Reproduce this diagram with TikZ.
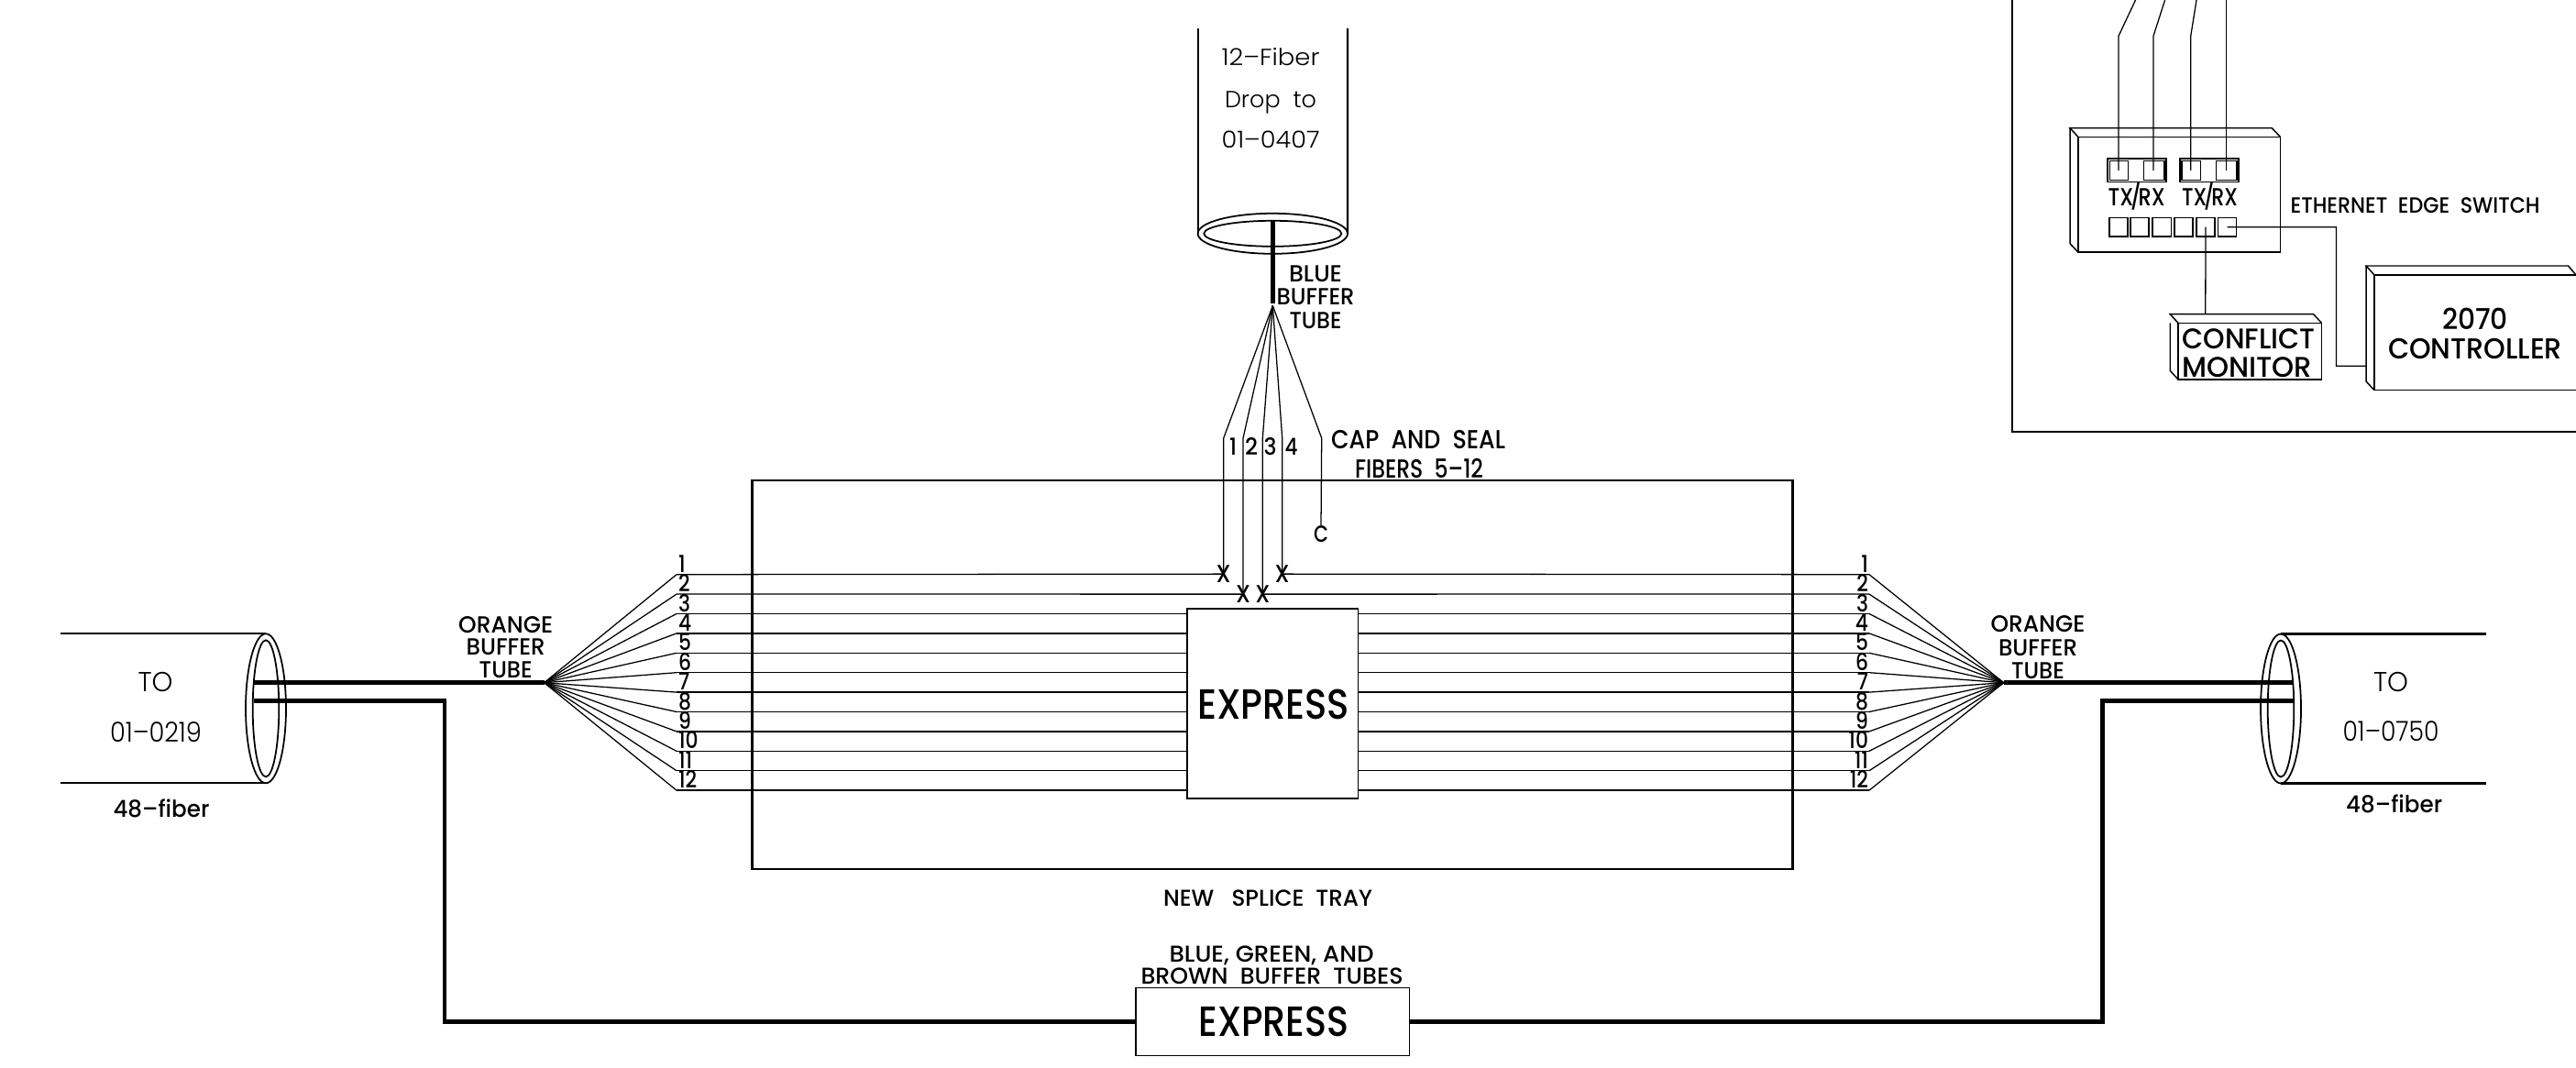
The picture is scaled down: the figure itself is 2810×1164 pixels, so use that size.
\documentclass[tikz,border=0pt]{standalone}
\usepackage{fontspec}
\usepackage{graphicx}
\usetikzlibrary{shapes.geometric}
\setmainfont{Poppins}[UprightFont=* Medium]
\newfontfamily\lightf{Poppins}[UprightFont=* Light]
\newdimen\px \px=0.01cm
\newcommand\lbl[3]{\resizebox{#1\px}{\height}{\fontsize{\the\dimexpr#2\px*3/2\relax}{\the\dimexpr#2\px*9/5\relax}\selectfont #3}}
\newcommand\tx[7][]{\node[lab,font=#1] (#2) at ({#3},{#4+#6/2+1.5}) {\lbl{#5}{#6}{#7}};}
\newcommand\bx[6][]{\node[rb,minimum width={(#5-#3)*\px},minimum height={(#6-#4)*\px}] (#2) at ({(#3+#5)/2},{(#4+#6)/2}) {#1};}
\newcommand\txrx{TX\kern-.14em/\kern-.14em RX}
\tikzset{
  lab/.style={anchor=base,inner sep=0pt,outer sep=0pt,text=black},
  rb/.style={draw=black,line width=0.42pt,fill=white,inner sep=0pt,outer sep=0pt},
  thin fiber/.style={draw=black,line width=0.36pt,line join=miter},
  cyl/.style={draw=black,line width=0.6pt},
  tube/.style={draw=black,line width=1.4pt,line join=miter},
  ring/.style={draw=black,line width=0.5pt,ellipse,inner sep=0pt,outer sep=0pt},
  tray/.style={draw=black,line width=0.65pt,inner sep=0pt,outer sep=0pt},
  num/.style={inner sep=0pt,outer sep=0pt,text=black},
}
\begin{document}
\begin{tikzpicture}[x=0.01cm,y=-0.01cm]
\useasboundingbox (0,0) rectangle (2810,1164);
% cabinet
\coordinate (cabTL) at (2195,0);
\coordinate (cabBL) at (2195,471);
\coordinate (cabBR) at (2810,471);
\draw[tray] (cabTL) -- (cabBL) -- (cabBR);
% switch
\bx{sw}{2266.8}{149.3}{2487.4}{275}
\draw[rb,fill=none] (sw.north west) -- ++(-8.8,-9.6) -- ++(220.2,0) -- (sw.north east);
\draw[rb,fill=none] (sw.south west) -- ++(-8.8,-9.3) -- ++(0,-126);
\bx{pgA}{2299}{173}{2362.8}{198.7}
\bx{pgB}{2378}{173}{2442}{198.7}
\bx{pa}{2301.7}{175.3}{2321.4}{196.3}
\bx{pb}{2338.3}{175.3}{2360.8}{196.3}
\bx{pc}{2380}{175.3}{2400.6}{196.3}
\bx{pd}{2417.4}{175.3}{2440}{196.3}
\coordinate (fa0) at (2329.5,0); \coordinate (fa1) at (2311,39.3);
\coordinate (fb0) at (2361.6,0); \coordinate (fb1) at (2349,39.3);
\coordinate (fc0) at (2396,0);   \coordinate (fc1) at (2389.7,39.3);
\coordinate (fd0) at (2428.7,0);
\draw[thin fiber] (fa0) -- (fa1) -- (fa1 |- pa.center);
\draw[thin fiber] (fb0) -- (fb1) -- (fb1 |- pb.center);
\draw[thin fiber] (fc0) -- (fc1) -- (fc1 |- pc.center);
\draw[thin fiber] (fd0) -- (fd0 |- pd.center);
\tx{txa}{2330.6}{214}{62}{18}{\txrx}
\tx{txb}{2410.5}{214}{61}{18}{\txrx}
\tx{eth}{2634.6}{222.7}{272}{16}{ETHERNET~~EDGE~~SWITCH}
\bx{sa}{2301}{237.3}{2321}{258}
\bx{sb}{2324}{237.3}{2344}{258}
\bx{sc}{2348}{237.3}{2368.4}{258}
\bx{sd}{2372}{237.3}{2392}{258}
\bx{se}{2395.8}{237.3}{2416}{258}
\bx{sf}{2419.5}{237.3}{2439.5}{258}
% conflict monitor
\bx{cm}{2376}{352.3}{2532.4}{414}
\draw[rb,fill=none] (cm.north west) -- ++(-8.8,-9.6) -- ++(156.4,0) -- (cm.north east);
\draw[rb,fill=none] (cm.south west) -- ++(-8.8,-9.7) -- ++(0,-52);
\tx{cma}{2453}{369}{145}{20.7}{CONFLICT}
\tx{cmb}{2451}{400}{142}{20.7}{MONITOR}
\coordinate (cmt) at (2405.8,342.7);
\draw[thin fiber] (se.center) -- (cmt);
% controller
\bx{ct}{2590}{300}{2812}{425.7}
\draw[rb,fill=none] (ct.north west) -- ++(-9,-10) -- ++(220.5,0) -- (2810,300);
\draw[rb,fill=none] (ct.south west) -- ++(-9,-9.7) -- ++(0,-126);
\tx{cta}{2700}{348}{72}{21}{2070}
\tx{ctb}{2700}{379}{190}{21}{CONTROLLER}
\coordinate (ctl) at (2581,399.3);
\coordinate (wa) at (2548.4,247.7);
\coordinate (wb) at (2548.4,399.3);
\draw[thin fiber] (sf.center) -- (wa) -- (wb) -- (ctl);
% drop cylinder
\node[ring,minimum width=163.4\px,minimum height=44\px] (dropo) at (1388.3,254.8) {};
\node[ring,minimum width=150\px,minimum height=28\px] (dropi) at (1388.3,254.8) {};
\coordinate (dl) at (1306.6,31);
\coordinate (dr) at (1470,31);
\draw[cyl] (dropo.west) -- (dl);
\draw[cyl] (dropo.east) -- (dr);
\tx[\lightf]{dta}{1386}{62}{107}{17}{12–Fiber}
\tx[\lightf]{dtb}{1386}{107.5}{100}{17}{Drop~~to}
\tx[\lightf]{dtc}{1386}{151.3}{107}{17}{01–0407}
\coordinate (btop) at (1388.3,241);
\coordinate (bfan) at (1388.3,333.5);
\draw[tube] (btop) -- (1388.3,331);
\tx{bba}{1435}{297.8}{58}{17}{BLUE}
\tx{bbb}{1435}{323}{85}{17}{BUFFER}
\tx{bbc}{1435}{348.3}{57}{17}{TUBE}
\tx{na}{1345}{486.3}{8}{17}{1}
\tx{nb}{1365}{486.3}{14}{17}{2}
\tx{nc}{1385.7}{486.3}{14}{17}{3}
\tx{nd}{1408.7}{486.3}{14}{17}{4}
\tx{cpa}{1547}{478.8}{190}{19}{CAP~~AND~~SEAL}
\tx{cpb}{1548}{510.3}{140}{19}{FIBERS~~5–12}
% tray
\node[tray,minimum width=1135\px,minimum height=424\px] (trayb) at (1388,736) {};
\tx{trl}{1383}{978.3}{228}{16.7}{NEW~~~SPLICE~~TRAY}
% express inner
\bx{ex}{1295}{664}{1481.7}{871}
\tx{exl}{1389}{768}{166}{30.7}{EXPRESS}
% row lines and fans
\coordinate (fl) at (593.6,744.7);
\coordinate (fr) at (2185.7,744.7);
\foreach \i in {1,...,12}{
  \pgfmathsetmacro\yy{626.7+21.4*(\i-1)}
  \coordinate (rl\i) at (738,\yy);
  \coordinate (rr\i) at (2039,\yy);
  \draw[thin fiber] (fl) -- (rl\i);
  \draw[thin fiber] (fr) -- (rr\i);
  \node[num,anchor=base west] (ln\i) at (740,{\yy-2.5}) {\fontsize{7.3}{8}\selectfont\scalebox{0.85}[1]{\i}};
  \node[num,anchor=base east] (rn\i) at (2038,{\yy-2.5}) {\fontsize{7.3}{8}\selectfont\scalebox{0.85}[1]{\i}};
}
\foreach \i in {3,...,12}{
  \draw[thin fiber] (rl\i) -- (ex.west |- rl\i);
  \draw[thin fiber] (ex.east |- rr\i) -- (rr\i);
}
% fibers into tray
\coordinate (da) at (1334.7,478);
\coordinate (db) at (1356,478);
\coordinate (dc) at (1377.3,478);
\coordinate (dd) at (1398.7,478);
\coordinate (de) at (1441.7,478);
\tx{xa}{1334.7}{625}{16}{18}{X}
\tx{xb}{1356}{647}{16}{18}{X}
\tx{xc}{1377.3}{647}{16}{18}{X}
\tx{xd}{1398.7}{625}{16}{18}{X}
\tx{cc}{1441}{581}{16}{17}{C}
\draw[thin fiber] (rl1) -- (xa.center);
\draw[thin fiber] (xd.center) -- (rr1);
\draw[thin fiber] (rl2) -- (xb.center);
\draw[thin fiber] (xc.center) -- (rr2);
\draw[thin fiber] (bfan) -- (da) -- (xa.center);
\draw[thin fiber] (bfan) -- (db) -- (xb.center);
\draw[thin fiber] (bfan) -- (dc) -- (xc.center);
\draw[thin fiber] (bfan) -- (dd) -- (xd.center);
\draw[thin fiber] (bfan) -- (de) -- (cc.north);
% left cylinder
\node[ring,minimum width=44\px,minimum height=163\px] (lo) at (290,772.8) {};
\node[ring,minimum width=28.6\px,minimum height=149\px] (li) at (290,772.8) {};
\coordinate (lct) at (65.5,691.3);
\coordinate (lcb) at (65.5,854.3);
\draw[cyl] (lct) -- (lo.north);
\draw[cyl] (lcb) -- (lo.south);
\tx[\lightf]{lta}{169.6}{743.3}{38}{20}{TO}
\tx[\lightf]{ltb}{170}{797.7}{100}{20}{01–0219}
\tx{ltc}{176}{881}{105}{17}{48–fiber}
\coordinate (lta1) at (277,744.7);
\coordinate (ltb1) at (277,764.3);
\coordinate (ltb2) at (485,764.3);
\draw[tube] (lta1) -- (fl);
\tx{loa}{551.7}{680}{103}{17}{ORANGE}
\tx{lob}{551.7}{704.3}{86}{17}{BUFFER}
\tx{loc}{551.7}{729.3}{58}{17}{TUBE}
% right cylinder
\node[ring,minimum width=44\px,minimum height=163\px] (ro) at (2488,773) {};
\node[ring,minimum width=28.6\px,minimum height=149\px] (ri) at (2488,773) {};
\coordinate (rct) at (2711.7,691.5);
\coordinate (rcb) at (2711.7,854.5);
\draw[cyl] (ro.north) -- (rct);
\draw[cyl] (ro.south) -- (rcb);
\tx[\lightf]{rta}{2608}{743}{38}{20}{TO}
\tx[\lightf]{rtb}{2608}{797.3}{105}{20}{01–0750}
\tx{rtc}{2611.7}{876.7}{105}{17}{48–fiber}
\coordinate (rta1) at (2502,744.7);
\coordinate (rtb1) at (2502,764.3);
\coordinate (rtb2) at (2293,764.3);
\draw[tube] (fr) -- (rta1);
\tx{roa}{2223}{679.3}{103}{17}{ORANGE}
\tx{rob}{2223}{705}{86}{17}{BUFFER}
\tx{roc}{2223}{730}{58}{17}{TUBE}
% express bottom
\bx{exb}{1239}{1077.3}{1537.3}{1151.7}
\tx{exbl}{1389.5}{1114}{164}{30.7}{EXPRESS}
\coordinate (lc) at (485,1114.3);
\coordinate (rc) at (2293,1114.3);
\draw[tube] (ltb1) -- (ltb2) -- (lc) -- (exb.west |- lc);
\draw[tube] (rtb1) -- (rtb2) -- (rc) -- (exb.east |- rc);
\tx{bga}{1387}{1039.3}{223}{16.7}{BLUE,~GREEN,~AND}
\tx{bgb}{1387.5}{1064}{286}{16.7}{BROWN~~BUFFER~~TUBES}
\end{tikzpicture}
\end{document}
